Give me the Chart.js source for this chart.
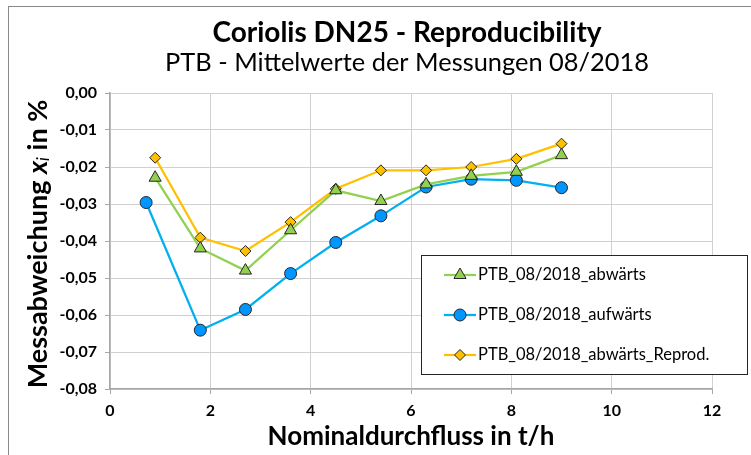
<!DOCTYPE html>
<html lang="de">
<head>
  <meta charset="UTF-8" />
  <title>Coriolis DN25 - Reproducibility</title>
  <script src="https://cdn.jsdelivr.net/npm/chart.js"></script>
  <style>
    body {
      margin: 0;
      background: #ffffff;
      overflow: hidden;
    }

    .frame {
      position: absolute;
      left: 8px;
      top: 6px;
      width: 798px;
      height: 500px;
      border: 1px solid #8a8a8a;
    }

    /* das Original ist rechts abgeschnitten, daher breiter als das Fenster */
    .grafica {
      position: absolute;
      left: 0;
      top: 0;
      width: 814px;
      height: 455px;
    }
  </style>
</head>
<body>
  <div class="frame"></div>
  <div class="grafica">
    <canvas id="miCanvas"></canvas>
  </div>

  <script>
    const xAbwaerts = [0.9, 1.8, 2.7, 3.6, 4.5, 5.4, 6.3, 7.2, 8.1, 9.0];
    const yAbwaerts = [-0.0229, -0.0420, -0.0480, -0.0371, -0.0263, -0.0292, -0.0247, -0.0224, -0.0213, -0.0168];

    const xAufwaerts = [0.72, 1.8, 2.7, 3.6, 4.5, 5.4, 6.3, 7.2, 8.1, 9.0];
    const yAufwaerts = [-0.0296, -0.0641, -0.0585, -0.0488, -0.0404, -0.0332, -0.0254, -0.0233, -0.0236, -0.0256];

    const xReprod = [0.9, 1.8, 2.7, 3.6, 4.5, 5.4, 6.3, 7.2, 8.1, 9.0];
    const yReprod = [-0.0175, -0.0391, -0.0427, -0.0349, -0.0259, -0.0209, -0.0209, -0.0200, -0.0178, -0.0137];

    const seriesNames = ["PTB_08/2018_abwärts", "PTB_08/2018_aufwärts", "PTB_08/2018_abwärts_Reprod."];
    const xTicks = [0, 2, 4, 6, 8, 10, 12];
    const yTicks = [0, -0.01, -0.02, -0.03, -0.04, -0.05, -0.06, -0.07, -0.08];

    const toPoints = (xs, ys) => xs.map((x, i) => ({ x: x, y: ys[i] }));
    const fontName = "Lato, 'Open Sans', sans-serif";

    // y-Achsentitel mit kursivem x und Index i
    const yTitlePlugin = {
      id: "yTitle",
      afterDraw(chart) {
        const ctx = chart.ctx;
        const parts = [
          { t: "Messabweichung ", f: "bold 27px " + fontName, dy: 0 },
          { t: "x", f: "italic bold 27px " + fontName, dy: 0 },
          { t: "i", f: "italic 17px " + fontName, dy: 6 },
          { t: " in %", f: "bold 27px " + fontName, dy: 0 }
        ];
        ctx.save();
        ctx.translate(38, 244);
        ctx.rotate(-Math.PI / 2);
        ctx.fillStyle = "#000";
        ctx.textBaseline = "middle";
        let total = 0;
        parts.forEach(p => { ctx.font = p.f; p.w = ctx.measureText(p.t).width; total += p.w; });
        let x = -total / 2;
        parts.forEach(p => {
          ctx.font = p.f;
          ctx.fillText(p.t, x, p.dy);
          x += p.w;
        });
        ctx.restore();
      }
    };

    // Legende im Kasten mit Linie + Marker
    const legendBoxPlugin = {
      id: "legendBox",
      afterDraw(chart) {
        const ctx = chart.ctx;
        const bx = 421, by = 255, bw = 326, bh = 119;
        ctx.save();
        ctx.fillStyle = "#fff";
        ctx.fillRect(bx, by, bw, bh);
        ctx.strokeStyle = "#262626";
        ctx.lineWidth = 1;
        ctx.strokeRect(bx + 0.5, by + 0.5, bw, bh);
        chart.data.datasets.forEach((ds, i) => {
          const cy = 275 + i * 40;
          ctx.strokeStyle = ds.borderColor;
          ctx.lineWidth = ds.borderWidth;
          ctx.beginPath();
          ctx.moveTo(444, cy);
          ctx.lineTo(476, cy);
          ctx.stroke();
          const cx = 460;
          const r = ds.pointRadius;
          ctx.beginPath();
          if (ds.pointStyle === "triangle") {
            ctx.moveTo(cx, cy - r);
            ctx.lineTo(cx + r * Math.sin(Math.PI / 3), cy + r * 0.5);
            ctx.lineTo(cx - r * Math.sin(Math.PI / 3), cy + r * 0.5);
            ctx.closePath();
          } else if (ds.pointStyle === "rectRot") {
            ctx.moveTo(cx - r, cy);
            ctx.lineTo(cx, cy - r);
            ctx.lineTo(cx + r, cy);
            ctx.lineTo(cx, cy + r);
            ctx.closePath();
          } else {
            ctx.arc(cx, cy, r, 0, Math.PI * 2);
          }
          ctx.fillStyle = ds.pointBackgroundColor;
          ctx.fill();
          ctx.strokeStyle = ds.pointBorderColor;
          ctx.lineWidth = ds.pointBorderWidth;
          ctx.stroke();
          ctx.fillStyle = "#000";
          ctx.font = "16.5px " + fontName;
          ctx.textBaseline = "middle";
          ctx.fillText(ds.label, 478, cy);
        });
        ctx.restore();
      }
    };

    const miCanvas = document.getElementById("miCanvas").getContext("2d");
    window.miCanva = new Chart(miCanvas, {
      type: "scatter",
      data: {
        datasets: [
          {
            label: seriesNames[0],
            data: toPoints(xAbwaerts, yAbwaerts),
            showLine: true,
            borderColor: "#92d050",
            borderWidth: 2.25,
            pointStyle: "triangle",
            pointRadius: 7,
            pointBackgroundColor: "#92d050",
            pointBorderColor: "#262626",
            pointBorderWidth: 1
          },
          {
            label: seriesNames[1],
            data: toPoints(xAufwaerts, yAufwaerts),
            showLine: true,
            borderColor: "#00b0f0",
            borderWidth: 2.25,
            pointStyle: "circle",
            pointRadius: 6,
            pointBackgroundColor: "#0096ff",
            pointBorderColor: "#262626",
            pointBorderWidth: 1
          },
          {
            label: seriesNames[2],
            data: toPoints(xReprod, yReprod),
            showLine: true,
            borderColor: "#ffc000",
            borderWidth: 2.25,
            pointStyle: "rectRot",
            pointRadius: 5.5,
            pointBackgroundColor: "#ffc000",
            pointBorderColor: "#262626",
            pointBorderWidth: 1
          }
        ]
      },
      options: {
        responsive: true,
        maintainAspectRatio: false,
        animation: false,
        layout: { padding: { top: 9, right: 0, left: 0, bottom: 0 } },
        plugins: {
          legend: { display: false },
          tooltip: { enabled: false },
          title: {
            display: true,
            text: "Coriolis DN25 - Reproducibility",
            color: "#000",
            font: { family: fontName, size: 28, weight: "bold", lineHeight: 1 },
            padding: { top: 9.5, bottom: 2 }
          },
          subtitle: {
            display: true,
            text: "PTB - Mittelwerte der Messungen 08/2018",
            color: "#000",
            font: { family: fontName, size: 25.4, weight: "normal", lineHeight: 1 },
            padding: { top: 1.4, bottom: 17.7 }
          }
        },
        scales: {
          x: {
            type: "linear",
            min: 0,
            max: 12,
            afterBuildTicks: (scale) => { scale.ticks = xTicks.map(v => ({ value: v })); },
            afterFit: (scale) => { scale.height = 66; },
            ticks: {
              color: "#000",
              padding: 7,
              font: { family: fontName, size: 16, weight: "bold" },
              callback: (v) => String(v)
            },
            grid: { color: "#d0d0d0", tickColor: "#a6a6a6", tickLength: 5 },
            border: { color: "#a6a6a6", width: 1.5 },
            title: {
              display: true,
              text: "Nominaldurchfluss in t/h",
              color: "#000",
              font: { family: fontName, size: 26, weight: "bold" },
              padding: { top: 2, bottom: 3 }
            }
          },
          y: {
            type: "linear",
            min: -0.08,
            max: 0,
            afterBuildTicks: (scale) => { scale.ticks = yTicks.map(v => ({ value: v })); },
            afterFit: (scale) => { scale.width = 110; },
            ticks: {
              color: "#000",
              padding: 8,
              font: { family: fontName, size: 16, weight: "bold" },
              callback: (v) => (Math.abs(v) < 1e-9 ? "0,00" : v.toFixed(2).replace(".", ","))
            },
            grid: { color: "#d0d0d0", tickColor: "#a6a6a6", tickLength: 5 },
            border: { color: "#a6a6a6", width: 1.5 }
          },
          // leerer Rand rechts (abgeschnittener Teil des Originals)
          yRechts: {
            type: "linear",
            position: "right",
            min: -0.08,
            max: 0,
            afterFit: (scale) => { scale.width = 102; },
            ticks: { display: false },
            grid: { display: false, drawTicks: false },
            border: { display: false }
          }
        }
      },
      plugins: [yTitlePlugin, legendBoxPlugin]
    });
  </script>
</body>
</html>
